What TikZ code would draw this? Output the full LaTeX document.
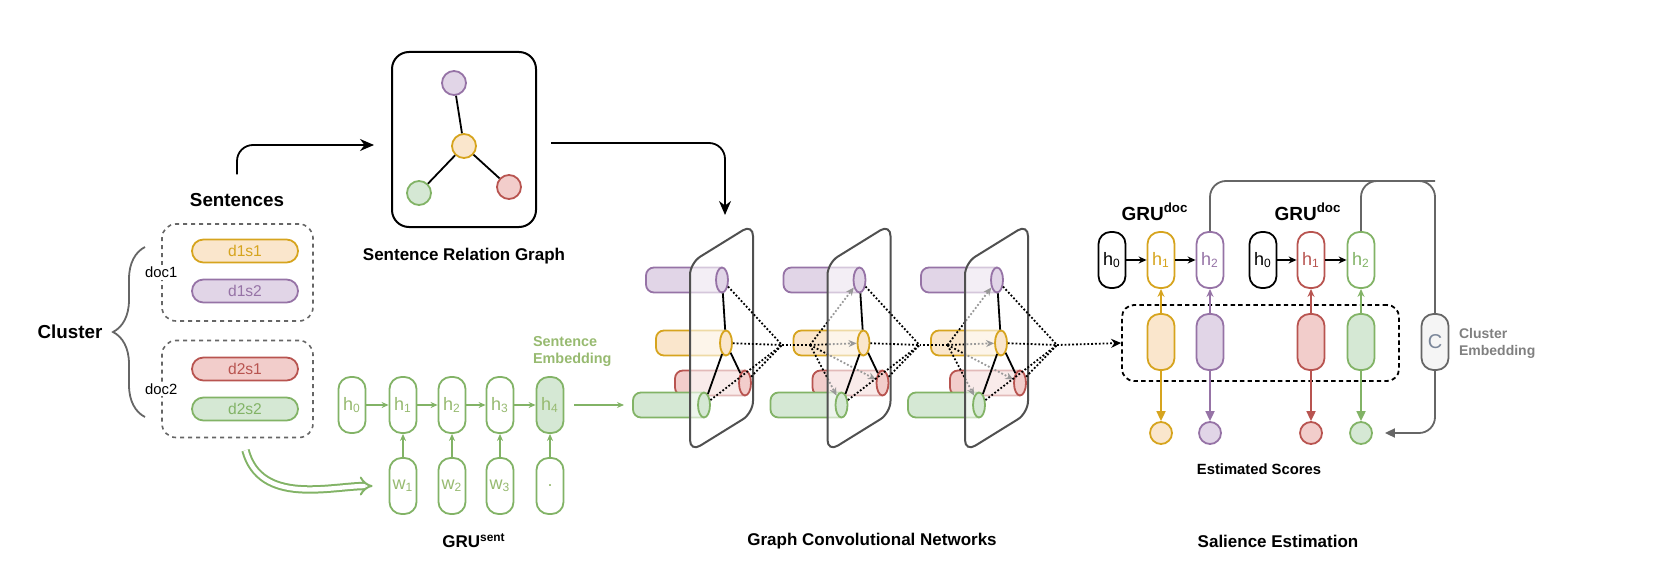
\documentclass[tikz,border=0pt]{standalone}
\usepackage{tikz}
\usepackage{fontspec}
\setmainfont{Liberation Sans}
\usetikzlibrary{arrows.meta,shapes.geometric,decorations.pathreplacing}
\pgfdeclarelayer{back}
\pgfdeclarelayer{mid}
\pgfsetlayers{back,mid,main}

\definecolor{ylwfill}{HTML}{FAE6CC}
\definecolor{ylwline}{HTML}{D6A41E}
\definecolor{prpfill}{HTML}{E1D5E7}
\definecolor{prpline}{HTML}{9673A6}
\definecolor{redfill}{HTML}{F2CDCB}
\definecolor{redline}{HTML}{B85450}
\definecolor{grnfill}{HTML}{D5E8D4}
\definecolor{grnline}{HTML}{82B366}
\definecolor{grntext}{HTML}{97BA70}
\definecolor{midgray}{HTML}{666666}
\definecolor{planegray}{HTML}{505050}
\definecolor{cfill}{HTML}{F5F5F5}
\definecolor{ctext}{HTML}{7A8699}

\tikzset{
  pill/.style={draw=#1line, fill=#1fill, text=#1line, line width=0.9pt, rounded corners=5.7pt,
    minimum width=53pt, minimum height=11.5pt, inner sep=0pt, font=\fontsize{7.8}{9}\selectfont},
  doc box/.style={draw=midgray, dash pattern=on 2pt off 2pt, line width=0.8pt, rounded corners=7pt,
    minimum width=75.5pt, minimum height=48.5pt},
  graph node/.style={circle, draw=#1line, fill=#1fill, line width=0.9pt, minimum size=12pt, inner sep=0pt},
  cell/.style={rounded corners=6pt, line width=0.9pt, minimum width=13.5pt, minimum height=28pt,
    inner sep=0pt, font=\fontsize{9}{10}\selectfont},
  sent cell/.style={cell, draw=grnline, text=grntext, fill=white},
  doc cell/.style={cell, draw=#1line, text=#1line, fill=white},
  emb cell/.style={cell, draw=#1line, fill=#1fill},
  score/.style={circle, draw=#1line, fill=#1fill, line width=0.9pt, minimum size=11pt, inner sep=0pt},
  cyl end/.style={ellipse, draw=#1line, fill=#1fill, line width=0.9pt, minimum width=6pt,
    minimum height=12.5pt, inner sep=0pt},
  cyl body/.style={draw=#1line, fill=#1fill, line width=0.9pt, rounded corners=4pt},
  section label/.style={font=\bfseries\fontsize{8.5}{10}\selectfont},
  big label/.style={font=\bfseries\fontsize{9.4}{11}\selectfont},
  main arrow/.style={line width=0.9pt, -{Stealth[length=7pt,width=6pt]}},
  green arrow/.style={grnline, line width=0.9pt, -{Stealth[length=3.5pt,width=3pt]}},
  small arrow/.style={line width=0.9pt, -{Stealth[length=4pt,width=3.5pt]}},
  score arrow/.style={line width=0.9pt, -{Triangle[length=5pt,width=4.5pt]}},
  dotted link/.style={densely dotted, line width=0.9pt},
}

\begin{document}
\begin{tikzpicture}[x=0.5pt, y=-0.5pt]
\useasboundingbox (0,0) rectangle (1669,583);

% documents of the cluster
\node[doc box] (doc1) at (237.5,272.5) {};
\node[doc box] (doc2) at (237.5,389) {};
\node[fill=white, inner sep=1pt, font=\fontsize{7.4}{9}\selectfont] (doc1 label) at (doc1.west) {doc1};
\node[fill=white, inner sep=1pt, font=\fontsize{7.4}{9}\selectfont] (doc2 label) at (doc2.west) {doc2};
\node[pill=ylw] (d1s1) at (245,251) {d1s1};
\node[pill=prp] (d1s2) at (245,291) {d1s2};
\node[pill=red] (d2s1) at (245,369) {d2s1};
\node[pill=grn] (d2s2) at (245,409) {d2s2};
\node[big label] (sentences) at (237,200) {Sentences};
\node[big label] (cluster) at (70,332) {Cluster};
\draw[decorate, decoration={brace, amplitude=16pt}, midgray, line width=0.9pt] (145,417) -- (145,247);

% sentence relation graph
\node[draw, line width=1pt, rounded corners=8.5pt, minimum width=72pt, minimum height=87.5pt] (srg) at (464,139.5) {};
\node[graph node=prp] (gp) at (454,83) {};
\node[graph node=ylw] (gy) at (464,146) {};
\node[graph node=grn] (gg) at (419,193) {};
\node[graph node=red] (gr) at (509,187) {};
\draw[line width=0.9pt] (gp) -- (gy) (gy) -- (gg) (gy) -- (gr);
\node[section label] (srg label) at (464,256) {Sentence Relation Graph};
\draw[main arrow, rounded corners=8pt, shorten <=6pt, shorten >=8.5pt] (sentences.north) |- ([yshift=-2.75pt]srg.west);

% sentence encoder
\foreach \i/\x in {0/352,1/403,2/452,3/500}
  \node[sent cell] (hs\i) at (\x,405) {h\textsubscript{\i}};
\node[sent cell, fill=grnfill] (hs4) at (550,405) {h\textsubscript{4}};
\foreach \i/\x in {1/403,2/452,3/500}
  \node[sent cell] (ws\i) at (\x,486) {w\textsubscript{\i}};
\node[sent cell] (ws4) at (550,486) {.};
\foreach \i [count=\j] in {0,...,3}
  \draw[green arrow] (hs\i) -- (hs\j);
\foreach \i in {1,...,4}
  \draw[green arrow] (ws\i) -- (hs\i);
\node[anchor=west, align=left, text=grntext, font=\bfseries\fontsize{7.2}{8.5}\selectfont] (sent emb) at (526,351) {Sentence\\Embedding};
\node[section label] (gru sent) at (474,541) {GRU\textsuperscript{sent}};
\draw[grnline, line width=1pt, double=white, double distance=2.2pt, -{Implies}, shorten >=8pt]
  ([xshift=4pt,yshift=-6pt]doc2.south) to[out=-75, in=180] (ws1.west);

% graph convolution layers
\coordinate (g0top) at (725,215);
\coordinate (g0in) at (624,405);
\draw[main arrow, rounded corners=8pt, shorten <=7pt] ([yshift=-1.75pt]srg.east) -| (g0top);
\draw[green arrow, shorten <=5pt] (hs4) -- (g0in);
\foreach \k in {0,1,2} {
  \pgfmathsetmacro\dx{137.5*\k}
  \foreach \n/\col/\ex/\y/\len in {p/prp/722/280/76, y/ylw/726/343/70, r/red/745/383/70, g/grn/704/405/71} {
    \node[cyl end=\col] (\n\k) at ({\ex+\dx},\y) {};
    \begin{pgfonlayer}{back}
      \draw[cyl body=\col] ({\ex+\dx},{\y-12.5}) -- ({\ex+\dx-\len},{\y-12.5})
        -- ({\ex+\dx-\len},{\y+12.5}) -- ({\ex+\dx},{\y+12.5});
    \end{pgfonlayer}
  }
  \begin{pgfonlayer}{mid}
    \draw[draw=planegray, line width=1pt, fill=white, fill opacity=0.6, rounded corners=6pt]
      ({690+\dx},263) -- ({753+\dx},224) -- ({753+\dx},413) -- ({690+\dx},452) -- cycle;
  \end{pgfonlayer}
  \draw[line width=0.9pt] (p\k) -- (y\k) (y\k) -- (g\k) (y\k) -- (r\k);
  \coordinate (join\k) at ({782+\dx},345);
  \foreach \n in {p,y,r,g}
    \draw[dotted link] (\n\k) -- (join\k);
  \ifnum\k>0
    \pgfmathtruncatemacro\prev{\k-1}
    \coordinate (fan\k) at ({672.5+\dx},345);
    \draw[dotted link] (join\prev) -- (fan\k);
    \begin{pgfonlayer}{back}
      \foreach \n in {p,y,r,g}
        \draw[dotted link, -{Stealth[length=4pt,width=3.5pt]}] (fan\k) -- (\n\k);
    \end{pgfonlayer}
  \fi
}
\node[section label] (gcn label) at (872,541) {Graph Convolutional Networks};

% salience estimation
\node[draw, dash pattern=on 2.2pt off 1.6pt, line width=0.9pt, rounded corners=6pt,
  minimum width=138.5pt, minimum height=38pt] (sbox) at (1260.5,343) {};
\draw[dotted link, -{Stealth[length=5pt,width=4.5pt]}] (join2) -- (sbox.west);
\node[cell, draw=black] (h0a) at (1112,260) {h\textsubscript{0}};
\node[doc cell=ylw] (h1a) at (1161,260) {h\textsubscript{1}};
\node[doc cell=prp] (h2a) at (1210,260) {h\textsubscript{2}};
\node[cell, draw=black] (h0b) at (1263,260) {h\textsubscript{0}};
\node[doc cell=red] (h1b) at (1311,260) {h\textsubscript{1}};
\node[doc cell=grn] (h2b) at (1361,260) {h\textsubscript{2}};
\draw[small arrow] (h0a) -- (h1a);
\draw[small arrow] (h1a) -- (h2a);
\draw[small arrow] (h0b) -- (h1b);
\draw[small arrow] (h1b) -- (h2b);
\foreach \i/\col/\x/\h in {1/ylw/1161/h1a, 2/prp/1210/h2a, 3/red/1311/h1b, 4/grn/1361/h2b} {
  \node[emb cell=\col] (e\i) at (\x,342) {};
  \node[score=\col] (s\i) at (\x,433) {};
  \draw[small arrow, color=\col line] (e\i) -- (\h);
  \draw[score arrow, color=\col line] (e\i) -- (s\i);
}
\node[cell, draw=midgray, fill=cfill, text=ctext, font=\fontsize{10}{12}\selectfont] (cnode) at (1435,342) {C};
\coordinate (ctop) at (1435,181);
\draw[midgray, line width=0.9pt, rounded corners=8pt] (h2a.north) |- (ctop) -- (cnode.north);
\draw[midgray, line width=0.9pt, rounded corners=8pt] (h2b.north) |- (ctop);
\draw[midgray, score arrow, rounded corners=8pt, shorten >=6pt] (cnode.south) |- (s4.east);
\node[anchor=west, align=left, text=gray, font=\bfseries\fontsize{7}{8.5}\selectfont] (cemb label) at (1452,343) {Cluster\\Embedding};
\node[font=\bfseries\fontsize{9.5}{11}\selectfont] (grudoc a) at (1155,212) {GRU\textsuperscript{doc}};
\node[font=\bfseries\fontsize{9.5}{11}\selectfont] (grudoc b) at (1308,212) {GRU\textsuperscript{doc}};
\node[font=\bfseries\fontsize{7.4}{9}\selectfont] (scores label) at (1259,469) {Estimated Scores};
\node[section label] (sal label) at (1278,541) {Salience Estimation};
\end{tikzpicture}
\end{document}
